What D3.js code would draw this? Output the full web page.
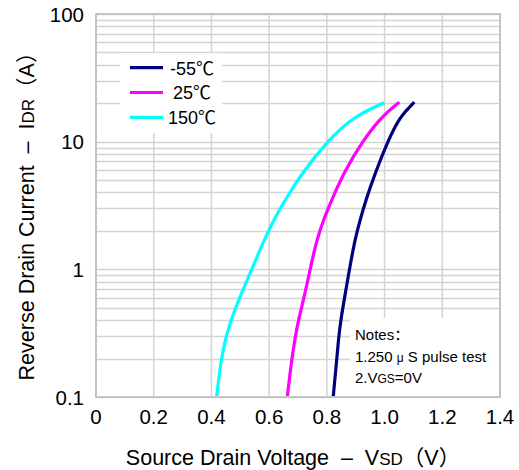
<!DOCTYPE html>
<html>
<head>
<meta charset="utf-8">
<script src="https://cdn.jsdelivr.net/npm/d3@7"></script>
<style>
  html, body { margin: 0; padding: 0; background: #fff; }
  svg { display: block; }
  text { font-family: "Liberation Sans", Arial, "Noto Sans CJK SC", sans-serif; fill: #000; white-space: pre; }
</style>
</head>
<body>
<svg id="chart" width="519" height="470"></svg>
<script>
// Reverse drain current vs. source-drain voltage, three junction temperatures
const seriesNames = ["-55℃", "25℃", "150℃"];
const seriesColors = ["#000080", "#ff00ff", "#00ffff"];

// VSD (V) and IDR (A) sample points along each curve
const vsdM55 = [0.822, 0.832, 0.841, 0.849, 0.866, 0.880, 0.897, 0.915, 0.935, 0.967, 1.013, 1.053, 1.103];
const idrM55 = [0.1, 0.173, 0.296, 0.413, 0.689, 1.05, 1.70, 2.43, 3.49, 5.65, 10.3, 15.7, 20.4];

const vsd25 = [0.663, 0.675, 0.690, 0.703, 0.727, 0.744, 0.765, 0.788, 0.817, 0.857, 0.926, 0.990, 1.051];
const idr25 = [0.1, 0.173, 0.296, 0.413, 0.689, 1.05, 1.70, 2.43, 3.49, 5.65, 10.3, 15.7, 20.4];

const vsd150 = [0.418, 0.433, 0.450, 0.476, 0.499, 0.534, 0.568, 0.609, 0.655, 0.713, 0.805, 0.892, 0.999];
const idr150 = [0.1, 0.195, 0.296, 0.452, 0.61, 0.93, 1.42, 2.29, 3.49, 5.65, 10.3, 15.7, 20.2];

const xTicks = [0, 0.2, 0.4, 0.6, 0.8, 1.0, 1.2, 1.4];
const xTickLabels = ["0", "0.2", "0.4", "0.6", "0.8", "1.0", "1.2", "1.4"];
const yTicks = [0.1, 1, 10, 100];
const yTickLabels = ["0.1", "1", "10", "100"];

const series = [
  { name: seriesNames[0], color: seriesColors[0], pts: vsdM55.map((v, i) => [v, idrM55[i]]) },
  { name: seriesNames[1], color: seriesColors[1], pts: vsd25.map((v, i) => [v, idr25[i]]) },
  { name: seriesNames[2], color: seriesColors[2], pts: vsd150.map((v, i) => [v, idr150[i]]) }
];

const svg = d3.select("#chart");
const plot = { left: 96, right: 500, top: 14, bottom: 397 };

const x = d3.scaleLinear().domain([0, 1.4]).range([plot.left, plot.right]);
const y = d3.scaleLog().domain([0.1, 100]).range([plot.bottom, plot.top]);

const gridColor = "#d4d4d4";

// horizontal log grid (1..9 per decade)
const hLines = [];
[0.1, 1, 10].forEach(d => { for (let k = 1; k <= 9; k++) hLines.push(d * k); });
hLines.push(100);
svg.append("g").selectAll("line").data(hLines).join("line")
  .attr("x1", plot.left).attr("x2", plot.right)
  .attr("y1", d => Math.round(y(d)) + 0.5).attr("y2", d => Math.round(y(d)) + 0.5)
  .attr("stroke", gridColor).attr("stroke-width", 1.3);

// vertical grid
svg.append("g").selectAll("line").data(xTicks).join("line")
  .attr("y1", plot.top).attr("y2", plot.bottom)
  .attr("x1", d => x(d)).attr("x2", d => x(d))
  .attr("stroke", gridColor).attr("stroke-width", 1.5);

// legend panel
const legend = svg.append("g");
legend.append("rect").attr("x", 120).attr("y", 53).attr("width", 102).attr("height", 80).attr("fill", "#fff");
series.forEach((s, i) => {
  const ly = 67.7 + i * 24.8;
  legend.append("line").attr("x1", 130).attr("x2", 163).attr("y1", ly).attr("y2", ly)
    .attr("stroke", s.color).attr("stroke-width", 3.2);
  legend.append("text").attr("x", 192).attr("y", ly + 6.8)
    .attr("text-anchor", "middle").attr("font-size", 18).text(s.name);
});

// notes panel
const notes = svg.append("g");
notes.append("rect").attr("x", 350).attr("y", 318).attr("width", plot.right - 350).attr("height", plot.bottom - 318).attr("fill", "#fff");
notes.append("text").attr("x", 355).attr("y", 340).attr("font-size", 15).text("Notes：");
notes.append("text").attr("x", 355).attr("y", 362).attr("font-size", 15)
  .call(t => {
    t.append("tspan").text("1.250 ");
    t.append("tspan").attr("font-size", 12).text("μ");
    t.append("tspan").text(" S pulse test");
  });
notes.append("text").attr("x", 355).attr("y", 383).attr("font-size", 15)
  .call(t => {
    t.append("tspan").text("2.V");
    t.append("tspan").attr("font-size", 12).text("GS");
    t.append("tspan").text("=0V");
  });

// curves
const line = d3.line()
  .x(d => x(d[0])).y(d => y(d[1]))
  .curve(d3.curveBasis);
svg.append("g").selectAll("path").data(series).join("path")
  .attr("d", d => line(d.pts))
  .attr("fill", "none").attr("stroke", d => d.color)
  .attr("stroke-width", 3.2).attr("stroke-linejoin", "round");

// plot frame
svg.append("rect")
  .attr("x", plot.left).attr("y", plot.top)
  .attr("width", plot.right - plot.left).attr("height", plot.bottom - plot.top)
  .attr("fill", "none").attr("stroke", "#c4c4c4").attr("stroke-width", 2);

// tick labels
svg.append("g").selectAll("text").data(xTicks).join("text")
  .attr("x", d => x(d)).attr("y", 424)
  .attr("text-anchor", "middle").attr("font-size", 20.5)
  .text((d, i) => xTickLabels[i]);
svg.append("g").selectAll("text").data(yTicks).join("text")
  .attr("x", 84).attr("y", d => y(d) + 7.5)
  .attr("text-anchor", "end").attr("font-size", 20.5)
  .text((d, i) => yTickLabels[i]);

// axis titles
svg.append("text").attr("x", 293).attr("y", 465).attr("text-anchor", "middle").attr("font-size", 21.5)
  .call(t => {
    t.append("tspan").text("Source Drain Voltage  –  V");
    t.append("tspan").attr("font-size", 17).text("SD");
    t.append("tspan").text("（V）");
  });
svg.append("text").attr("transform", "translate(34,211) rotate(-90)")
  .attr("text-anchor", "middle").attr("font-size", 21.5)
  .call(t => {
    t.append("tspan").text("Reverse Drain Current  –  I");
    t.append("tspan").attr("font-size", 17).text("DR");
    t.append("tspan").text("（A）");
  });
</script>
</body>
</html>
